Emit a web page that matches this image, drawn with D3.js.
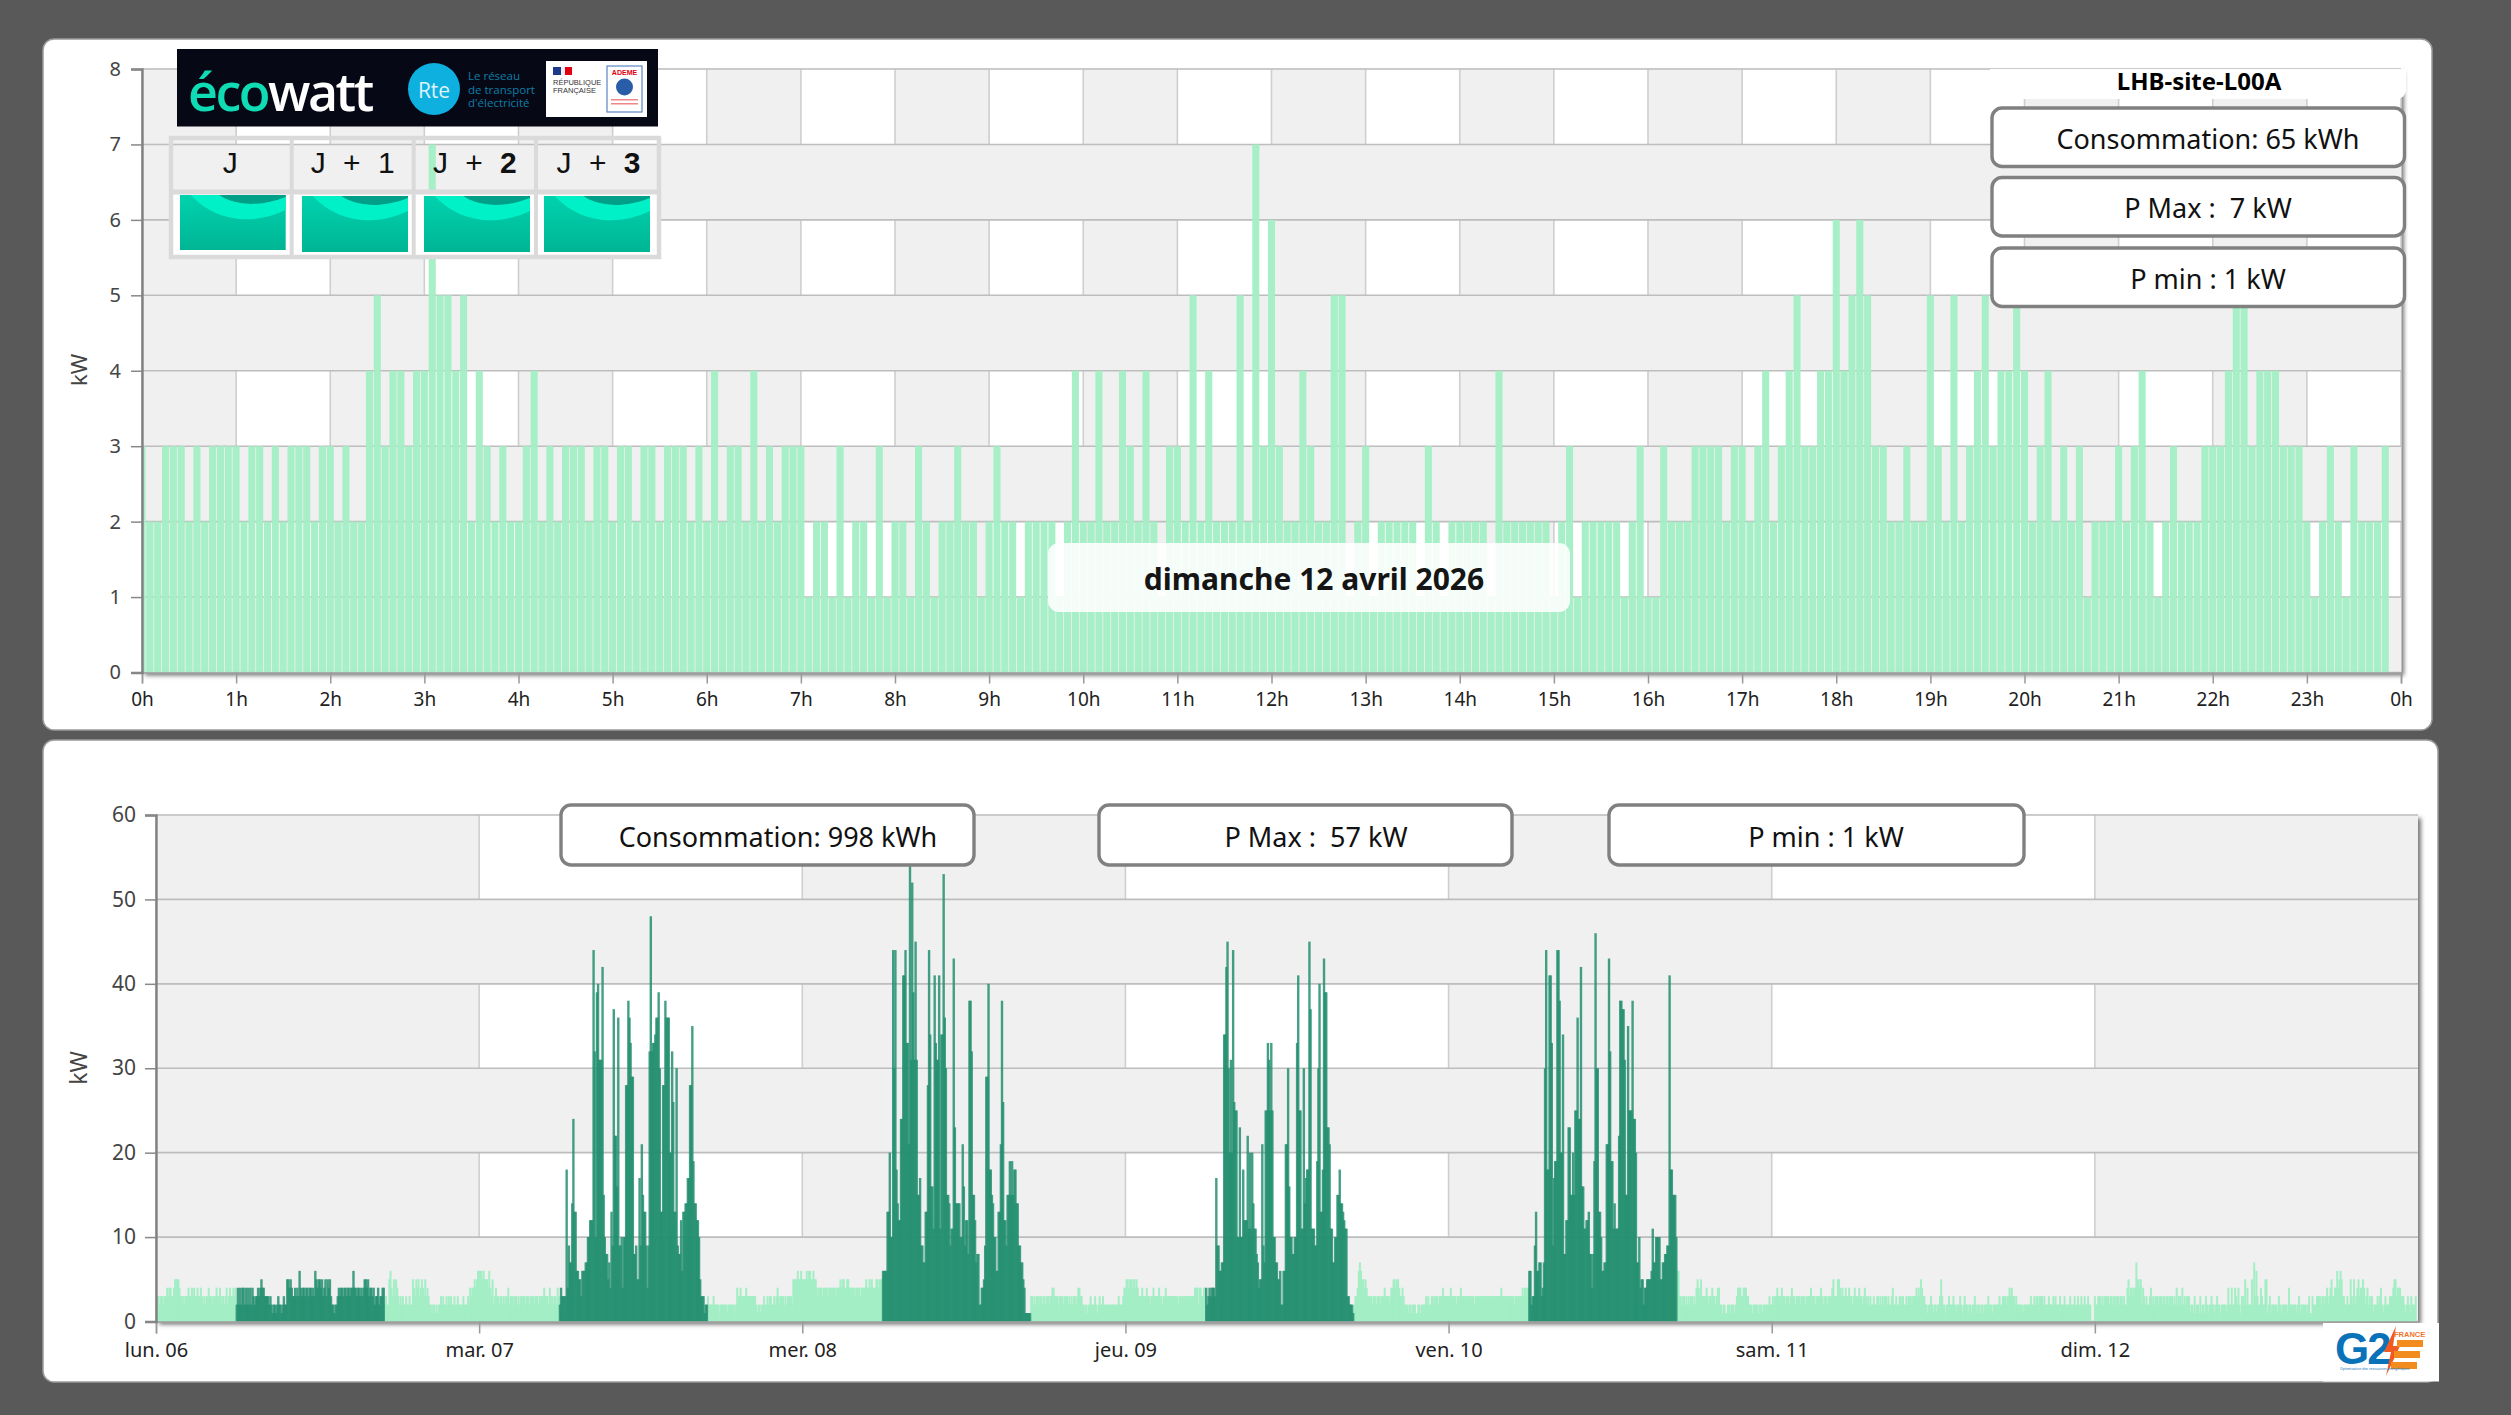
<!DOCTYPE html>
<html><head><meta charset="utf-8">
<script src="https://cdn.jsdelivr.net/npm/d3@7"></script>
<style>html,body{margin:0;padding:0;background:#595959}svg{display:block}</style></head>
<body><div id="c"></div>
<script>
// ---- data ----
const hourTicks=["0h","1h","2h","3h","4h","5h","6h","7h","8h","9h","10h","11h","12h","13h","14h","15h","16h","17h","18h","19h","20h","21h","22h","23h","0h"];
const dayTicks=["lun. 06","mar. 07","mer. 08","jeu. 09","ven. 10","sam. 11","dim. 12"];
const topValues=[3,2,2,3,3,3,2,3,2,3,3,3,3,2,3,3,2,3,2,3,3,3,2,3,3,2,3,2,2,4,5,3,4,4,3,4,4,7,5,5,4,5,2,4,3,2,3,2,2,3,4,2,3,2,3,3,3,2,3,3,2,3,3,2,3,3,2,3,3,3,2,3,2,4,2,3,3,2,4,2,3,2,3,3,3,1,2,2,1,3,
1,2,2,1,3,1,2,2,1,3,2,1,2,2,3,2,2,1,2,3,2,2,1,2,2,2,2,1,2,4,2,2,4,2,2,4,3,2,4,2,1,3,3,2,5,2,4,2,2,2,5,2,7,3,6,3,2,2,4,3,2,2,5,5,1,2,3,1,2,2,2,2,2,1,3,2,1,2,2,2,2,2,1,4,2,2,2,2,2,2,1,2,3,1,2,2,2,2,2,1,2,3,1,1,3,2,2,
2,3,3,3,3,2,3,3,2,3,4,2,3,4,5,3,3,4,4,6,4,5,6,5,3,3,2,2,3,2,2,5,3,2,5,2,3,4,5,3,4,4,5,4,2,3,4,2,3,2,3,1,2,2,2,3,2,3,4,2,1,2,3,2,2,2,3,3,3,4,5,5,3,4,4,4,3,3,3,2,1,2,3,2,1,3,2,2,2,3];
const monMorning=[3,3,3,2,3,3,3,2,3,3,4,3,4,4,3,3,4,5,5,5,5,4,3,3,3,2,3,3,3,4,3,3,4,3,4,3,3,4,3,3,4,3,2,3,2,3,3,4,3,3,2,3,3,3,4,3,3,4,2,3,3,2,3,4,2,3,4,3,3,4,3,4];
const monDay=[2,4,2,4,2,4,4,2,4,2,4,2,4,2,4,3,2,3,3,4,3,4,5,4,4,3,3,3,3,2,3,2,1,2,2,1,2,3,2,2,1,2,3,2,2,5,5,4,5,4,3,3,4,3,4,3,6,4,3,4,4,3,4,4,3,4,4,3,4,3,6,5,4,5,5,4,5,3,4,5,3,5,4,5,3,2,2,1,2,2,3,4,3,4,4,3,4,4,3,4,4,3,4,4,6,4,4,3,4,4,3,4,3,4,5,5,4,5,3,4,4,3,4,2,3,3,4,2,3,3,4,4];
const monEvening=[2,3,2,2,5,6,4,3,5,3,5,4,3,2,3,2,3,2,2,3,2,2,3,2,2,5,4,3,5,4,5,3,4,5,4,3,5,3,4,3,2,2,1,2,2,1,2,1,2,2,3,2,3,2,2,3,2,3,2,3,2,2,3,2,2,3,2,2,2,2,3,2,2,2,3,2,4,3,4,4,5,4,5,6];
const tueMorning=[6,6,6,5,6,5,5,5,4,6,4,3,5,2,3,4,3,3,2,3,3,2,3,2,3,3,4,2,3,3,3,2,3,3,2,3,2,3,3,3,3,2,3,3,3,2,3,3,3,2,3,3,3,2,3,3,3,3,4,3,3,3,2,4,3,3,2,3,3,2,4,3];
const tueDay=[2,4,3,3,3,3,18,4,9,7,7,14,24,13,13,6,6,5,5,3,6,6,6,7,7,10,10,12,12,12,44,32,10,39,40,31,31,31,42,15,10,8,8,5,7,4,13,9,37,22,22,16,36,9,9,10,4,10,10,28,28,38,36,33,29,29,8,8,9,5,5,17,9,21,15,13,13,9,4,9,32,48,32,33,33,34,36,36,39,30,13,13,28,28,38,36,36,36,20,20,32,26,13,13,30,9,8,8,12,6,13,13,14,14,17,17,28,28,35,19,14,14,12,12,10,5,3,3,3,1,2,2];
const tueEvening=[3,2,2,2,2,3,2,2,2,2,1,2,2,2,2,2,2,1,2,2,2,2,2,2,1,2,4,3,3,4,3,3,3,3,4,3,3,3,3,3,3,3,3,2,1,2,2,1,2,2,3,2,2,3,2,3,3,2,2,3,2,3,4,3,2,3,3,3,2,3,2,3,3,3,3,2,5,5,5,5,6,5,5,6];
const wedMorning=[5,5,5,5,6,5,6,6,5,5,6,5,5,4,3,4,4,4,3,4,4,4,4,3,4,4,4,4,4,4,3,4,4,4,5,4,5,5,4,4,5,5,4,4,4,4,4,3,4,4,4,4,3,4,4,4,4,5,4,4,5,4,5,4,4,4,5,5,4,5,5,5];
const wedDay=[6,6,6,6,13,13,20,10,10,44,30,44,18,14,12,12,24,24,41,41,44,33,33,21,57,31,52,39,31,45,31,15,15,17,9,9,7,7,13,13,28,44,34,16,16,11,41,33,31,31,41,11,34,34,53,36,30,15,15,14,9,11,11,43,23,14,14,14,14,10,10,21,16,9,12,12,8,38,38,32,15,15,12,7,8,8,2,2,4,4,5,9,29,29,40,18,18,15,14,10,10,6,6,13,13,21,38,26,12,12,9,15,15,19,15,19,15,18,18,14,14,9,9,7,7,5,4,1,1,1,1,1];
const wedEvening=[3,3,2,3,2,3,3,2,3,3,2,3,3,2,3,3,2,3,3,4,4,3,3,3,2,3,3,3,3,2,3,3,3,2,3,2,3,2,3,3,2,3,4,4,3,3,2,2,1,2,1,2,2,3,2,2,2,3,2,1,2,3,2,2,3,2,2,2,2,2,2,2,2,2,2,2,2,2,3,2,2,2,3,4];
const thuMorning=[4,5,5,4,5,5,4,5,5,4,5,4,3,3,3,4,3,3,3,4,3,3,2,3,3,4,3,3,3,3,4,3,3,2,3,3,4,3,3,3,3,3,3,3,3,3,3,2,3,3,3,3,3,3,3,3,3,3,3,3,3,3,4,4,4,2,4,4,3,3,4,4];
const thuDay=[4,2,3,4,3,4,4,4,3,17,9,9,6,6,7,7,34,34,42,45,30,20,31,20,44,26,25,25,10,10,23,10,10,18,12,12,12,22,11,20,11,20,14,11,11,8,7,4,5,5,21,9,7,25,25,33,31,25,33,25,10,10,7,7,5,5,6,2,2,6,6,21,21,30,16,10,10,8,8,10,10,33,41,25,25,11,11,30,14,17,18,18,45,37,11,11,11,9,9,19,30,40,13,13,18,43,39,39,23,23,21,11,11,7,7,10,10,15,15,18,14,14,13,12,11,11,3,3,2,2,2,1];
const thuEvening=[2,3,3,4,6,7,6,5,5,4,5,4,3,3,3,3,2,3,3,3,2,3,3,2,3,3,3,4,3,3,3,2,3,4,4,5,5,4,5,5,4,3,3,4,3,2,2,2,1,2,2,1,2,2,2,1,1,2,2,1,2,2,2,2,3,2,3,2,2,3,3,2,3,3,3,2,3,3,3,4,3,3,3,3];
const friMorning=[3,3,4,3,3,3,3,2,3,3,3,4,3,3,3,3,3,3,3,3,3,3,3,2,3,3,3,3,3,3,3,3,3,3,3,3,3,3,3,3,3,3,3,3,3,3,3,4,3,3,3,3,3,3,3,3,3,3,3,2,3,3,3,3,3,3,4,3,4,3,4,4];
const friDay=[6,6,2,3,3,9,13,6,6,7,7,3,4,7,30,44,18,18,41,41,33,9,17,19,19,44,44,38,20,20,34,8,8,12,12,23,23,15,15,20,15,25,25,36,24,24,42,16,16,11,11,12,12,13,8,8,4,8,19,46,30,30,13,13,10,6,6,7,7,21,21,43,32,19,19,11,14,11,11,11,22,38,38,37,37,31,15,15,35,25,25,25,38,24,24,20,7,7,10,4,5,5,2,4,4,5,5,5,5,6,11,7,7,10,10,10,10,5,5,7,7,8,8,9,9,41,18,18,15,15,15,10];
const friEvening=[6,6,3,3,2,3,3,2,3,2,3,2,3,3,2,3,2,4,5,4,3,5,3,3,3,3,4,3,2,3,3,4,3,3,2,3,4,4,2,2,1,2,2,1,1,2,2,1,2,2,2,1,2,3,4,4,4,3,3,4,4,4,3,3,2,2,2,1,2,2,2,2,1,2,2,2,1,2,2,2,2,2,3,2];
const satValues=[2,3,2,3,3,4,3,3,3,4,3,3,2,3,3,3,2,3,4,3,3,2,3,3,3,3,2,3,3,3,2,3,3,3,3,4,3,3,3,2,3,3,3,3,4,3,2,3,3,3,2,3,3,3,4,5,3,3,3,5,5,4,3,4,3,3,4,3,3,4,3,3,2,3,4,3,3,3,4,3,3,2,3,4,3,2,3,2,3,2,2,3,2,2,3,3,2,3,2,3,2,3,3,2,3,2,2,3,4,2,2,3,2,2,3,3,2,3,2,2,3,2,3,3,3,2,3,3,3,4,3,4,3,5,4,3,3,2,2,1,2,2,3,2,1,2,2,1,2,2,3,5,3,2,2,1,2,2,3,2,2,2,3,2,2,1,2,2,3,2,1,2,3,2,2,1,2,2,1,2,2,3,2,1,2,2,1,2,2,1,2,2,2,3,2,2,2,1,2,2,2,2,2,3,2,2,3,3,3,2,3,3,4,3,4,3,3,2,3,2,2,2,2,2,1,2,2,2,2,2,2,3,2,2,3,2,3,3,2,3,3,3,2,3,2,2,2,3,2,2,2,3,2,3,2,2,2,3,2,2,2,3,2,2,2,2,3,2,2,2,3,2,2,3,2,2,3,2,2,3,2,2,3,2,2];
const summaryTop=["Consommation: 65 kWh","P Max :  7 kW","P min : 1 kW"];
const summaryBottom=["Consommation: 998 kWh","P Max :  57 kW","P min : 1 kW"];
const ecowattDays=[["J",""],["J + ","1"],["J + ","2"],["J + ","3"]];
const siteName="LHB-site-L00A";
const dateLabel="dimanche 12 avril 2026";

// ---- flatten the week: the detailed day period runs 6h-17h on working days ----
const weekDays=[[monMorning,monDay,monEvening],[tueMorning,tueDay,tueEvening],[wedMorning,wedDay,wedEvening],[thuMorning,thuDay,thuEvening],[friMorning,friDay,friEvening]];
const week=[];
weekDays.forEach((parts,d)=>{
  [[parts[0],0,false],[parts[1],72,true],[parts[2],204,false]].forEach(([arr,start,dark])=>{
    arr.forEach((v,k)=>week.push({t:d*288+start+k,v,dark}));
  });
});
satValues.slice(0,288).forEach((v,k)=>week.push({t:5*288+k,v,dark:false}));
topValues.forEach((v,k)=>week.push({t:6*288+k,v,dark:false}));

// ---- page ----
const FONT='"Noto Sans",sans-serif';
const svg=d3.select("#c").append("svg").attr("width",2511).attr("height",1415).attr("viewBox","0 0 2511 1415").style("font-family",FONT);
const defs=svg.append("defs");
const blur=defs.append("filter").attr("id","sh").attr("x","-5%").attr("y","-5%").attr("width","110%").attr("height","110%");
blur.append("feGaussianBlur").attr("stdDeviation",2);
svg.append("rect").attr("width",2511).attr("height",1415).attr("fill","#595959");

function panel(x,y,w,h){svg.append("rect").attr("x",x).attr("y",y).attr("width",w).attr("height",h).attr("rx",11).attr("fill","#fff").attr("stroke","#9a9a9a").attr("stroke-width",1.5);}
panel(43,39,2389,691);
panel(43,740,2395,642);

const GREY="#f0f0f0",LIGHT="#a3eec5",DARK="#238f70";

function frame(g,x,y,xDomainCount,yMax,yStep,xTickVals){
  const xa=x.range(),ya=y.range();
  g.append("rect").attr("x",xa[0]+3).attr("y",ya[1]+3).attr("width",xa[1]-xa[0]).attr("height",ya[0]-ya[1]).attr("fill","#777").attr("filter","url(#sh)");
  g.append("rect").attr("x",xa[0]).attr("y",ya[1]).attr("width",xa[1]-xa[0]).attr("height",ya[0]-ya[1]).attr("fill","#fff");
  for(let k=0;k<xDomainCount;k+=2){
    const x0=x(k),x1=Math.min(x(k+1),xa[1]);
    g.append("rect").attr("x",x0).attr("y",ya[1]).attr("width",x1-x0).attr("height",ya[0]-ya[1]).attr("fill",GREY);
  }
  const vg=g.append("g").attr("class","vgrid");
  vg.selectAll("line").data(xTickVals).join("line").attr("x1",d=>x(d)).attr("x2",d=>x(d)).attr("y1",ya[1]).attr("y2",ya[0]).attr("stroke","#cfcfcf").attr("stroke-width",1.6);
  for(let k=0;k<yMax;k+=2*yStep){
    g.append("rect").attr("x",xa[0]).attr("y",y(k+yStep)).attr("width",xa[1]-xa[0]).attr("height",y(k)-y(k+yStep)).attr("fill",GREY);
  }
  const hg=g.append("g");
  hg.selectAll("line").data(d3.range(0,yMax+1,yStep)).join("line").attr("x1",xa[0]).attr("x2",xa[1]).attr("y1",d=>y(d)).attr("y2",d=>y(d)).attr("stroke","#bdbdbd").attr("stroke-width",1.6);
}
function axes(g,x,y,yMax,yStep,xTickVals,xFmt,o){
  const xa=x.range(),ya=y.range();
  const xAxis=d3.axisBottom(x).tickValues(xTickVals).tickFormat(xFmt).tickSize(o.xTick).tickPadding(o.xPad);
  const ga=g.append("g").attr("transform",`translate(0,${ya[0]})`).call(xAxis);
  ga.select(".domain").attr("stroke","#a0a0a0").attr("stroke-width",1.6);
  ga.selectAll(".tick line").attr("stroke","#999").attr("stroke-width",1.5);
  ga.selectAll("text").attr("font-size",o.fs).attr("fill","#222").attr("font-family",FONT);
  const yAxis=d3.axisLeft(y).tickValues(d3.range(0,yMax+1,yStep)).tickSize(o.yTick).tickPadding(o.yPad);
  const gy=g.append("g").attr("transform",`translate(${xa[0]},0)`).call(yAxis);
  gy.select(".domain").attr("stroke","#808080").attr("stroke-width",2.4);
  gy.selectAll(".tick line").attr("stroke","#888").attr("stroke-width",1.5);
  gy.selectAll("text").attr("font-size",o.fs+1).attr("fill","#444").attr("font-family",FONT);
  g.append("text").attr("transform",`translate(${o.kwX},${o.kwY}) rotate(-90)`).attr("text-anchor","middle").attr("dominant-baseline","central").attr("font-size",o.fs+3).attr("fill","#444").text("kW");
}
function box(g,x0,y0,x1,y1,text,tx){
  g.append("rect").attr("x",x0).attr("y",y0).attr("width",x1-x0).attr("height",y1-y0).attr("rx",10).attr("fill","#fff").attr("stroke","#808080").attr("stroke-width",3.4);
  g.append("text").attr("x",tx).attr("y",(y0+y1)/2+1).attr("text-anchor","middle").attr("dominant-baseline","central").attr("font-size",27).attr("fill","#111").style("white-space","pre").text(text);
}

// ---- top chart ----
const g1=svg.append("g");
const x1=d3.scaleLinear().domain([0,24]).range([142,2401]);
const y1=d3.scaleLinear().domain([0,8]).range([672.5,69]);
frame(g1,x1,y1,24,8,1,d3.range(0,25));
defs.append("clipPath").attr("id","clipTop").append("rect").attr("x",142).attr("y",69).attr("width",2259).attr("height",604);
const barW1=x1(5/60)-x1(0)-0.8;
g1.append("g").attr("clip-path","url(#clipTop)").selectAll("rect").data(topValues).join("rect")
  .attr("x",(d,i)=>x1(i*5/60)-barW1/2).attr("width",barW1)
  .attr("y",d=>y1(d)).attr("height",d=>y1(0)-y1(d)).attr("fill",LIGHT).attr("fill-opacity",.97);
axes(g1,x1,y1,8,1,d3.range(0,25),(d,i)=>hourTicks[i],{xTick:11,xPad:9,yTick:11,yPad:10,fs:19,kwX:78,kwY:370});

// top-right title + boxes
g1.append("path").attr("d","M1990,69H2406V90a9,9 0 0 1 -9,9H1990Z").attr("fill","#fff");
g1.append("text").attr("x",2199).attr("y",80).attr("text-anchor","middle").attr("dominant-baseline","central").attr("font-size",24).attr("font-weight","bold").attr("fill","#000").text(siteName);
[[108,166.5],[177.5,236],[248,306.5]].forEach((r,i)=>box(g1,1992,r[0],2404.5,r[1],summaryTop[i],2208));

// date box
g1.append("rect").attr("x",1048).attr("y",543).attr("width",522).attr("height",69).attr("rx",11).attr("fill","#fff").attr("fill-opacity",.88);
g1.append("text").attr("x",1314).attr("y",578).attr("text-anchor","middle").attr("dominant-baseline","central").attr("font-size",30).attr("font-weight","bold").attr("fill","#151515").text(dateLabel);

// ecowatt banner
const eco=svg.append("g");
eco.append("rect").attr("x",177).attr("y",49).attr("width",481).attr("height",77.5).attr("fill","#070815");
const ecoT=eco.append("text").attr("x",188).attr("y",111).attr("font-family",'"Open Sans",sans-serif').attr("font-size",52).attr("font-weight",600).attr("letter-spacing",-2.5);
ecoT.append("tspan").attr("fill","#0fdcb4").text("éco");
ecoT.append("tspan").attr("fill","#fff").text("watt");
eco.append("circle").attr("cx",434).attr("cy",89).attr("r",26).attr("fill","#0eb0e0");
eco.append("text").attr("x",434).attr("y",90).attr("text-anchor","middle").attr("dominant-baseline","central").attr("font-size",21).attr("fill","#dff3fb").attr("font-family",'"Open Sans",sans-serif').text("Rte");
["Le réseau","de transport","d'électricité"].forEach((t,i)=>eco.append("text").attr("x",468).attr("y",80+i*13.5).attr("font-size",11.5).attr("font-family",'"Open Sans",sans-serif').attr("fill","#0e7fa6").text(t));
eco.append("rect").attr("x",546).attr("y",61).attr("width",101).attr("height",56).attr("fill","#fff");
eco.append("rect").attr("x",553).attr("y",67).attr("width",8).attr("height",8).attr("fill","#1f3a8a");
eco.append("rect").attr("x",561).attr("y",67).attr("width",4).attr("height",8).attr("fill","#eee");
eco.append("rect").attr("x",565).attr("y",67).attr("width",7).attr("height",8).attr("fill","#e1000f");
["RÉPUBLIQUE","FRANÇAISE"].forEach((t,i)=>eco.append("text").attr("x",553).attr("y",85+i*8).attr("font-size",7.5).attr("fill","#333").attr("font-family",'"Liberation Sans",sans-serif').text(t));
eco.append("rect").attr("x",607).attr("y",66).attr("width",35).attr("height",46).attr("fill","#fff").attr("stroke","#5b86c4").attr("stroke-width",1.2);
eco.append("text").attr("x",624.5).attr("y",75).attr("text-anchor","middle").attr("font-size",7).attr("font-weight","bold").attr("fill","#e1000f").attr("font-family",'"Liberation Sans",sans-serif').text("ADEME");
eco.append("circle").attr("cx",624.5).attr("cy",87).attr("r",8.5).attr("fill","#2a5da8");
eco.append("rect").attr("x",611).attr("y",99).attr("width",27).attr("height",1.5).attr("fill","#e88");
eco.append("rect").attr("x",611).attr("y",103).attr("width",27).attr("height",1.5).attr("fill","#e88");

// ecowatt table
const tbl=svg.append("g");
const colX=[[169,291.7],[291.7,413.7],[413.7,536],[536,661]];
const waveX=[[180,285.7,195,250],[302,408,196,252],[424,530,196,252],[544,650,196,252]];
const waveGrad=defs.append("linearGradient").attr("id","wave").attr("x1",0).attr("x2",0).attr("y1",0).attr("y2",1);
waveGrad.append("stop").attr("offset","0%").attr("stop-color","#00d2ae");
waveGrad.append("stop").attr("offset","100%").attr("stop-color","#00b594");
tbl.append("rect").attr("x",169).attr("y",192).attr("width",492).attr("height",66).attr("fill","#fff");
waveX.forEach(w=>{
  const [a,b,c,d]=w,W=b-a;
  const gw=tbl.append("g");
  gw.append("rect").attr("x",a).attr("y",c).attr("width",W).attr("height",d-c).attr("fill","url(#wave)");
  gw.append("path").attr("d",`M${a+W*.37},${c}C${a+W*.5},${c+10} ${a+W*.75},${c+13} ${b},${c+2}V${c}Z`).attr("fill","#00a088");
  gw.append("path").attr("d",`M${a+W*.1},${c}C${a+W*.35},${c+28} ${a+W*.7},${c+30} ${b},${c+15}V${c+2}C${a+W*.75},${c+13} ${a+W*.5},${c+10} ${a+W*.37},${c}Z`).attr("fill","#00f0c8");
});
tbl.append("rect").attr("x",171).attr("y",138).attr("width",488).attr("height",119).attr("fill","none").attr("stroke","#dadada").attr("stroke-width",4.5);
[291.7,413.7,536].forEach(x=>tbl.append("line").attr("x1",x).attr("x2",x).attr("y1",137).attr("y2",257).attr("stroke","#dadada").attr("stroke-width",4));
tbl.append("line").attr("x1",170).attr("x2",660).attr("y1",192).attr("y2",192).attr("stroke","#dadada").attr("stroke-width",5);
ecowattDays.forEach((t,i)=>{
  const tx=tbl.append("text").attr("x",(colX[i][0]+colX[i][1])/2).attr("y",162).attr("text-anchor","middle").attr("dominant-baseline","central").attr("font-family",'"Liberation Sans",sans-serif').attr("font-size",30).attr("word-spacing",9).attr("fill","#111").style("white-space","pre");
  tx.append("tspan").text(t[0]);
  tx.append("tspan").attr("font-weight",i>1?"bold":"normal").text(t[1]);
});

// ---- bottom chart ----
const g2=svg.append("g");
const x2=d3.scaleLinear().domain([0,7]).range([156,2418]);
const y2=d3.scaleLinear().domain([0,60]).range([1321.5,815]);
frame(g2,x2,y2,7,60,10,d3.range(0,7));
const xt=d=>x2(d/288);
defs.append("clipPath").attr("id","clipBot").append("rect").attr("x",156).attr("y",815).attr("width",2262).attr("height",507);
const bars2=g2.append("g").attr("clip-path","url(#clipBot)");
bars2.selectAll("rect.l").data(week.filter(d=>!d.dark)).join("rect").attr("class","l")
  .attr("x",d=>xt(d.t)-1).attr("width",2).attr("y",d=>y2(d.v)).attr("height",d=>y2(0)-y2(d.v)).attr("fill",LIGHT);
bars2.selectAll("rect.d").data(week.filter(d=>d.dark)).join("rect").attr("class","d")
  .attr("x",d=>xt(d.t)-1.2).attr("width",2.4).attr("y",d=>y2(d.v)).attr("height",d=>y2(0)-y2(d.v)).attr("fill",DARK).attr("fill-opacity",.85);
axes(g2,x2,y2,60,10,d3.range(0,7),(d,i)=>dayTicks[i],{xTick:12,xPad:9,yTick:11,yPad:9,fs:20,kwX:78,kwY:1068});
box(g2,561,805,974,865,summaryBottom[0],778);
box(g2,1099,805,1512,865,summaryBottom[1],1316);
box(g2,1609,805,2024,865,summaryBottom[2],1826);

// G2E logo
const lg=svg.append("g");
lg.append("rect").attr("x",2323).attr("y",1323).attr("width",116).attr("height",58.5).attr("fill","#fff");
lg.append("text").attr("x",2335).attr("y",1364).attr("font-family",'"Liberation Sans",sans-serif').attr("font-weight","bold").attr("font-size",44).attr("fill","#0a72b8").attr("letter-spacing",-2).text("G2");
lg.append("path").attr("d","M2396,1326L2384,1352H2391L2386,1376L2400,1346H2393Z").attr("fill","#f05a22");
[[2397,1340],[2394,1351],[2391,1362]].forEach(p=>lg.append("rect").attr("x",p[0]).attr("y",p[1]).attr("width",26).attr("height",7).attr("fill","#f28c1e"));
lg.append("text").attr("x",2394).attr("y",1337).attr("font-size",7.5).attr("fill","#f0762a").attr("font-family",'"Liberation Sans",sans-serif').attr("font-weight","bold").text("FRANCE");
lg.append("text").attr("x",2340).attr("y",1370).attr("font-size",3.5).attr("fill","#0a72b8").text("Optimisation des ressources énergétiques");
</script></body></html>
